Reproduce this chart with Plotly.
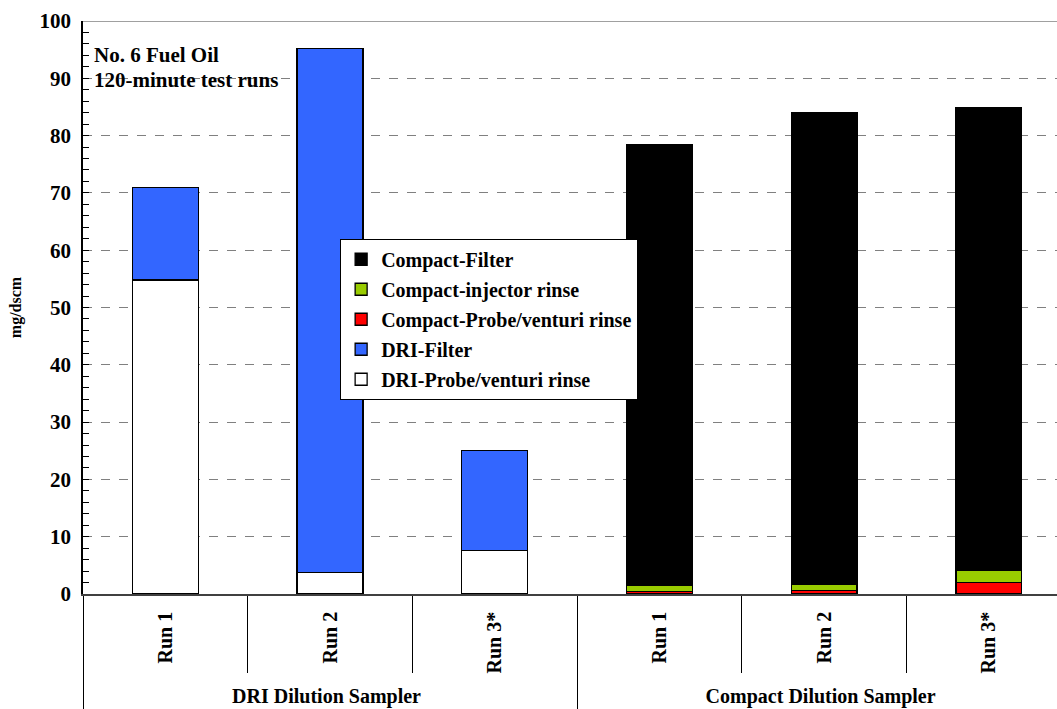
import plotly.graph_objects as go

# Sampler groups and runs (multicategory x axis)
groups = ["DRI Dilution Sampler"] * 3 + ["Compact Dilution Sampler"] * 3
runs = ["Run 1", "Run 2", "Run 3*", "Run 1", "Run 2", "Run 3*"]

# Stacked components, mg/dscm (bottom to top); None where a sampler has no such fraction
dri_probe = [54.8, 3.7, 7.6, None, None, None]
dri_filter = [16.2, 91.5, 17.5, None, None, None]
compact_probe = [None, None, None, 0.38, 0.66, 1.95]
compact_injector = [None, None, None, 1.1, 1.0, 2.15]
compact_filter = [None, None, None, 77.0, 82.4, 80.7]

series = [
    ("DRI-Probe/venturi rinse", dri_probe, "#FFFFFF"),
    ("DRI-Filter", dri_filter, "#3366FF"),
    ("Compact-Probe/venturi rinse", compact_probe, "#FF0000"),
    ("Compact-injector rinse", compact_injector, "#99CC00"),
    ("Compact-Filter", compact_filter, "#000000"),
]

FONT = "Liberation Serif"

fig = go.Figure()
n = len(series)
for i, (name, vals, color) in enumerate(series):
    fig.add_trace(go.Bar(
        x=[groups, runs], y=vals, name=name, legendgroup=name,
        legendrank=n - i,  # top stack component listed first
        marker=dict(color=color, line=dict(color="#000000", width=1.3)),
    ))

fig.update_layout(
    width=1057, height=709,
    margin=dict(l=83, r=0, t=21, b=115),
    paper_bgcolor="white", plot_bgcolor="white",
    barmode="stack", bargap=0.6,
    font=dict(family=FONT, color="#000000"),
    legend=dict(
        x=0.264, y=0.62, xanchor="left", yanchor="top",
        traceorder="grouped", tracegroupgap=1,
        bgcolor="white", bordercolor="#000000", borderwidth=1,
        font=dict(family=FONT, size=20, color="#000000", weight="bold"),
    ),
    showlegend=True,
)

fig.update_yaxes(
    range=[0, 100], dtick=10,
    showgrid=True, gridcolor="#808080", griddash="dash", gridwidth=1,
    ticks="inside", ticklen=6, tickcolor="#000000",
    minor=dict(dtick=2, ticks="inside", ticklen=6, tickcolor="#000000", showgrid=False),
    showline=True, linecolor="#000000", linewidth=1.5,
    tickfont=dict(family=FONT, size=21, weight="bold"),
    ticklabelstandoff=6,
    title=dict(text="mg/dscm", font=dict(family=FONT, size=16, weight="bold"), standoff=14),
    zeroline=False,
)

fig.update_xaxes(
    type="multicategory",
    range=[-0.5, 5.414],
    showline=True, linecolor="#404040", linewidth=1.5,
    ticks="outside", ticklen=77, tickcolor="#000000", tickson="boundaries",
    tickangle=-90, ticklabelstandoff=8,
    showdividers=True, dividercolor="#000000", dividerwidth=1,
    tickfont=dict(family=FONT, size=20, weight="bold"),
)

# top border of the plot area
fig.add_shape(type="line", xref="paper", yref="y", x0=0, x1=1, y0=100, y1=100,
              line=dict(color="#808080", width=1.5))

fig.add_annotation(text="No. 6 Fuel Oil", xref="paper", yref="paper",
                   x=0.009, y=(594 - 55) / 573, xanchor="left", yanchor="middle",
                   showarrow=False, font=dict(family=FONT, size=21, weight="bold"))
fig.add_annotation(text="120-minute test runs", xref="paper", yref="paper",
                   x=0.009, y=(594 - 80) / 573, xanchor="left", yanchor="middle",
                   showarrow=False, font=dict(family=FONT, size=21, weight="bold"))

fig.write_html("out.html")
